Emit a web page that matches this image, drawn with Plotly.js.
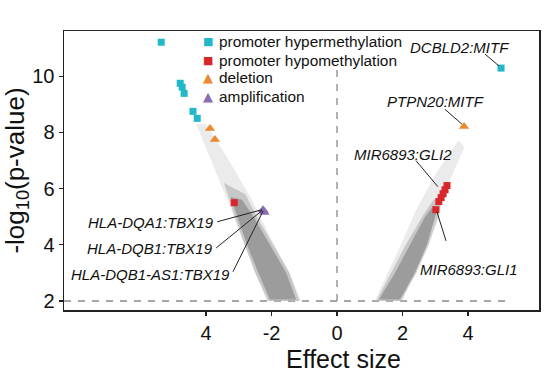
<!DOCTYPE html>
<html>
<head>
<meta charset="utf-8">
<script src="https://cdn.plot.ly/plotly-3.0.1.min.js"></script>
<style>html,body{margin:0;padding:0;background:#fff;}#chart{width:545px;height:374px;}</style>
</head>
<body>
<div id="chart"></div>
<script>
// ---- Data ----
// Gray background cloud (outlines of the density bands of all other pairs)
const leftFaintX  = [-4.3, -3.7, -3.25, -2.9, -2.15, -1.1, -1.45, -2.0, -2.6, -3.3, -4.0];
const leftFaintY  = [8.3, 6.6, 5.3, 4.2, 2.0, 2.0, 3.0, 4.2, 5.6, 7.0, 8.3];
const leftMidX    = [-3.45, -3.15, -2.85, -2.5, -2.1, -1.15, -1.45, -1.95, -2.45, -2.8];
const leftMidY    = [6.2, 5.1, 4.1, 3.0, 2.0, 2.0, 3.0, 4.0, 5.0, 5.8];
const leftCoreX   = [-3.25, -3.05, -2.75, -2.4, -2.05, -1.25, -1.55, -2.05, -2.55, -2.9];
const leftCoreY   = [5.7, 5.0, 4.0, 3.0, 2.05, 2.05, 3.0, 4.0, 5.0, 5.6];
const rightFaintX = [1.15, 1.55, 1.95, 2.4, 3.0, 3.7, 3.9, 3.45, 3.05, 2.5, 2.0];
const rightFaintY = [2.0, 3.0, 4.0, 5.2, 6.5, 7.7, 7.5, 6.3, 5.2, 3.6, 2.0];
const rightMidX   = [1.2, 1.65, 2.1, 2.6, 2.95, 3.2, 3.1, 2.8, 2.42, 1.95];
const rightMidY   = [2.0, 3.0, 4.0, 5.0, 5.6, 5.6, 5.0, 4.0, 3.0, 2.0];
const rightCoreX  = [1.28, 1.77, 2.23, 2.69, 2.95, 3.05, 2.75, 2.38, 1.92];
const rightCoreY  = [2.05, 3.0, 4.0, 5.0, 5.4, 5.2, 4.0, 3.0, 2.05];

// Highlighted categories
const hyperX = [-5.37, -4.79, -4.73, -4.67, -4.40, -4.27, 5.01];
const hyperY = [11.21, 9.75, 9.61, 9.39, 8.75, 8.50, 10.29];
const hypoX  = [-3.14, 3.36, 3.30, 3.24, 3.18, 3.11, 3.02];
const hypoY  = [5.50, 6.11, 5.96, 5.82, 5.68, 5.54, 5.25];
const delX   = [-3.88, -3.73, 3.88];
const delY   = [8.14, 7.75, 8.21];
const ampX   = [-2.26, -2.24, -2.22];
const ampY   = [5.25, 5.20, 5.15];

const seriesNames = ['promoter hypermethylation', 'promoter hypomethylation', 'deletion', 'amplification'];
const seriesColors = ['#22b8c9', '#d8262b', '#ec8830', '#8a6db3'];
const seriesGlyphs = ['\u25A0', '\u25A0', '\u25B2', '\u25B2'];
const xTickVals = [-4, -2, 0, 2, 4];
const xTickText = ['4', '-2', '0', '2', '4'];
const yTickVals = [2, 4, 6, 8, 10];

// Point labels
const labelText = ['DCBLD2:MITF', 'PTPN20:MITF', 'MIR6893:GLI2', 'MIR6893:GLI1',
                   'HLA-DQA1:TBX19', 'HLA-DQB1:TBX19', 'HLA-DQB1-AS1:TBX19'];
const labelX = [3.73, 3.02, 2.02, 4.03, -3.70, -3.73, -3.21];
const labelY = [11.04, 9.11, 7.21, 3.11, 4.79, 3.86, 2.96];
const labelAnchor = ['center', 'center', 'center', 'center', 'right', 'right', 'right'];
// Leader lines
const leaderX0 = [4.52, 3.30, 2.41, 3.33, -3.66, -3.69, -3.18];
const leaderY0 = [10.79, 8.82, 7.00, 4.14, 4.82, 3.89, 3.04];
const leaderX1 = [4.95, 3.82, 3.08, 3.05, -2.29, -2.29, -2.26];
const leaderY1 = [10.36, 8.29, 6.07, 5.18, 5.25, 5.22, 5.20];

// ---- Build traces ----
function band(x, y, color) {
  return {x: x, y: y, type: 'scatter', mode: 'lines', fill: 'toself',
          fillcolor: color, line: {width: 0}, hoverinfo: 'skip', showlegend: false};
}
const grayTraces = [
  band(leftFaintX, leftFaintY, 'rgba(205,205,205,0.4)'),
  band(leftMidX, leftMidY, 'rgba(175,175,175,0.6)'),
  band(leftCoreX, leftCoreY, 'rgba(148,148,148,0.85)'),
  band(rightFaintX, rightFaintY, 'rgba(205,205,205,0.4)'),
  band(rightMidX, rightMidY, 'rgba(175,175,175,0.6)'),
  band(rightCoreX, rightCoreY, 'rgba(148,148,148,0.85)')
];
const ptTraces = [
  {x: hyperX, y: hyperY, name: seriesNames[0], type: 'scatter', mode: 'markers',
   marker: {symbol: 'square', size: 7, color: seriesColors[0]}},
  {x: hypoX, y: hypoY, name: seriesNames[1], type: 'scatter', mode: 'markers',
   marker: {symbol: 'square', size: 7, color: seriesColors[1]}},
  {x: delX, y: delY, name: seriesNames[2], type: 'scatter', mode: 'markers',
   marker: {symbol: 'triangle-up', size: 9, color: seriesColors[2]}},
  {x: ampX, y: ampY, name: seriesNames[3], type: 'scatter', mode: 'markers',
   marker: {symbol: 'triangle-up', size: 9, color: seriesColors[3]}}
];

const FONT = 'Liberation Sans, Arial, Helvetica, sans-serif';
const annotations = labelText.map((t, i) => ({
  text: t, x: labelX[i], y: labelY[i], xref: 'x', yref: 'y', showarrow: false,
  xanchor: labelAnchor[i], yanchor: 'middle',
  font: {family: FONT, size: 15, color: '#111', style: 'italic'}
}));
// legend (inside plot)
const legRowY = [0.961, 0.896, 0.832, 0.767];
seriesNames.forEach((n, i) => {
  annotations.push({text: seriesGlyphs[i], x: 0.303, y: legRowY[i], xref: 'paper', yref: 'paper',
    showarrow: false, xanchor: 'center', yanchor: 'middle',
    font: {family: 'DejaVu Sans', size: i < 2 ? 11 : 13, color: seriesColors[i]}});
  annotations.push({text: n, x: 0.322, y: legRowY[i], xref: 'paper', yref: 'paper',
    showarrow: false, xanchor: 'left', yanchor: 'middle',
    font: {family: FONT, size: 15.4, color: '#111'}});
});
// x-axis title (centred near x = 0 as in the reference)
annotations.push({text: 'Effect size', x: 0.2, y: -0.176, xref: 'x', yref: 'paper',
  showarrow: false, xanchor: 'center', yanchor: 'middle',
  font: {family: FONT, size: 25, color: '#111'}});

const shapes = labelText.map((t, i) => ({
  type: 'line', xref: 'x', yref: 'y', x0: leaderX0[i], y0: leaderY0[i], x1: leaderX1[i], y1: leaderY1[i],
  line: {color: '#222', width: 1}
}));
shapes.push({type: 'line', xref: 'paper', yref: 'y', x0: 0, x1: 0.94, y0: 2, y1: 2,
             line: {color: '#8a8a8a', width: 1.3, dash: '7px,7px'}, layer: 'below'});
shapes.push({type: 'line', xref: 'x', yref: 'y', x0: 0, x1: 0, y0: 2, y1: 10.3,
             line: {color: '#8a8a8a', width: 1.3, dash: '7px,7px'}, layer: 'below'});

const layout = {
  width: 545, height: 374,
  margin: {l: 64, r: 6, t: 31, b: 64},
  paper_bgcolor: '#fff', plot_bgcolor: '#fff',
  font: {family: FONT, color: '#111'},
  showlegend: false,
  xaxis: {
    range: [-8.34, 6.17], tickvals: xTickVals, ticktext: xTickText,
    showgrid: false, zeroline: false, showline: true, mirror: true,
    linecolor: '#222', linewidth: 1.5, ticks: 'outside', ticklen: 4, tickwidth: 1.2, tickcolor: '#222',
    tickfont: {size: 20, family: FONT, color: '#111'}
  },
  yaxis: {
    range: [1.68, 11.61], tickvals: yTickVals,
    showgrid: false, zeroline: false, showline: true, mirror: true,
    linecolor: '#222', linewidth: 1.5, ticks: 'outside', ticklen: 4, tickwidth: 1.2, tickcolor: '#222',
    tickfont: {size: 20, family: FONT, color: '#111'},
    title: {text: '-log<sub>10</sub>(p-value)', font: {size: 26, family: FONT, color: '#111'}, standoff: 4}
  },
  annotations: annotations,
  shapes: shapes
};

Plotly.newPlot('chart', grayTraces.concat(ptTraces), layout, {staticPlot: true, displayModeBar: false});
</script>
</body>
</html>
